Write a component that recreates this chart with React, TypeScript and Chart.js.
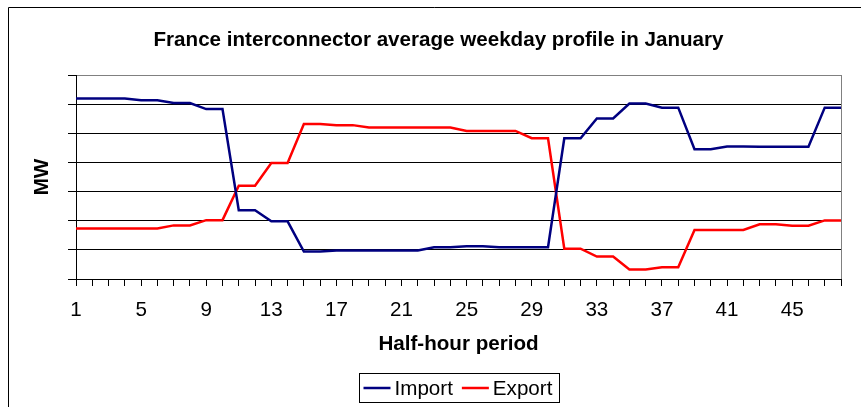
import React, { useEffect, useRef } from 'react';
import { Chart, registerables } from 'chart.js';

Chart.register(...registerables);

const FONT = '"Liberation Sans", Arial, Helvetica, sans-serif';
const FS = 20.6;

const titleText = 'France interconnector average weekday profile in January';
const xAxisTitle = 'Half-hour period';
const yAxisTitle = 'MW';

const categories = [
  '1', '2', '3', '4', '5', '6', '7', '8', '9', '10', '11', '12',
  '13', '14', '15', '16', '17', '18', '19', '20', '21', '22', '23', '24',
  '25', '26', '27', '28', '29', '30', '31', '32', '33', '34', '35', '36',
  '37', '38', '39', '40', '41', '42', '43', '44', '45', '46', '47', '48',
];

const shownTickLabels = ['1', '5', '9', '13', '17', '21', '25', '29', '33', '37', '41', '45'];

const importMW = [
  619, 619, 619, 619, 613, 613, 604, 604, 583, 583, 236, 236,
  198, 198, 94, 94, 98, 98, 98, 98, 98, 98, 109, 109,
  112, 112, 109, 109, 109, 109, 483, 483, 551, 551, 602, 602,
  588, 588, 445, 445, 455, 455, 454, 454, 454, 454, 588, 588,
];

const exportMW = [
  173, 173, 173, 173, 173, 173, 184, 184, 202, 202, 320, 320,
  398, 398, 532, 532, 528, 528, 520, 520, 520, 520, 520, 520,
  508, 508, 508, 508, 483, 483, 104, 104, 77, 77, 33, 33,
  40, 40, 168, 168, 168, 168, 188, 188, 183, 183, 201, 201,
];

const yMin = 0;
const yMax = 700;
const yStep = 100;

const seriesNames = ['Import', 'Export'];
const seriesColors = ['#000080', '#FF0000'];

const decorPlugin = {
  id: 'decor',
  beforeDraw(chart: any) {
    const ctx = chart.ctx;
    ctx.save();
    // outer frame (top and left edges visible)
    ctx.strokeStyle = '#000';
    ctx.lineWidth = 1;
    ctx.beginPath();
    ctx.moveTo(8.5, chart.height);
    ctx.lineTo(8.5, 7.5);
    ctx.lineTo(chart.width, 7.5);
    ctx.stroke();
    // chart title
    ctx.fillStyle = '#000';
    ctx.font = `bold ${FS}px ${FONT}`;
    ctx.textAlign = 'center';
    ctx.textBaseline = 'middle';
    ctx.fillText(titleText, 438.5, 40);
    ctx.restore();
  },
  beforeDatasetsDraw(chart: any) {
    const { ctx, chartArea } = chart;
    ctx.save();
    ctx.strokeStyle = '#808080';
    ctx.lineWidth = 1;
    ctx.beginPath();
    ctx.moveTo(Math.round(chartArea.right) + 0.5, chartArea.top);
    ctx.lineTo(Math.round(chartArea.right) + 0.5, chartArea.bottom);
    ctx.stroke();
    ctx.restore();
  },
  afterDraw(chart: any) {
    const { ctx, chartArea } = chart;
    const datasets = chart.data.datasets;
    ctx.save();
    ctx.font = `${FS}px ${FONT}`;
    const lineLen = 27;
    const textGap = 4;
    const itemGap = 9;
    const padL = 4;
    const padR = 7;
    let content = 0;
    datasets.forEach((d: any, i: number) => {
      content += lineLen + textGap + ctx.measureText(d.label).width;
      if (i < datasets.length - 1) content += itemGap;
    });
    const boxW = content + padL + padR;
    const cx = (chartArea.left + chartArea.right) / 2;
    const boxL = Math.round(cx - boxW / 2) + 0.5;
    const boxT = 373.5;
    const boxH = 29;
    ctx.strokeStyle = '#000';
    ctx.lineWidth = 1;
    ctx.strokeRect(boxL, boxT, Math.round(boxW), boxH);
    const cy = boxT + boxH / 2;
    let x = boxL + padL;
    datasets.forEach((d: any) => {
      ctx.strokeStyle = d.borderColor;
      ctx.lineWidth = d.borderWidth;
      ctx.beginPath();
      ctx.moveTo(x, cy);
      ctx.lineTo(x + lineLen, cy);
      ctx.stroke();
      x += lineLen + textGap;
      ctx.fillStyle = '#000';
      ctx.textAlign = 'left';
      ctx.textBaseline = 'middle';
      ctx.fillText(d.label, x, cy + 1);
      x += ctx.measureText(d.label).width + itemGap;
    });
    ctx.restore();
  },
};

export default function App() {
  const canvasRef = useRef<HTMLCanvasElement | null>(null);

  useEffect(() => {
    if (!canvasRef.current) return;
    Chart.defaults.font.family = FONT;
    Chart.defaults.color = '#000';
    const chart = new Chart(canvasRef.current, {
      type: 'line',
      data: {
        labels: categories,
        datasets: [
          {
            label: seriesNames[0],
            data: importMW,
            borderColor: seriesColors[0],
            backgroundColor: seriesColors[0],
            borderWidth: 2.5,
            pointRadius: 0,
            tension: 0,
            fill: false,
          },
          {
            label: seriesNames[1],
            data: exportMW,
            borderColor: seriesColors[1],
            backgroundColor: seriesColors[1],
            borderWidth: 2.5,
            pointRadius: 0,
            tension: 0,
            fill: false,
          },
        ],
      },
      options: {
        animation: false,
        responsive: false,
        maintainAspectRatio: false,
        layout: { padding: { left: 0, right: 20, top: 75, bottom: 40 } },
        plugins: {
          legend: { display: false },
          title: { display: false },
          tooltip: { enabled: false },
        },
        scales: {
          x: {
            type: 'category',
            offset: false,
            grid: {
              drawOnChartArea: false,
              drawTicks: true,
              tickLength: 7,
              color: '#000',
              offset: false,
            },
            border: { display: true, color: '#000', width: 1 },
            ticks: {
              autoSkip: false,
              maxRotation: 0,
              minRotation: 0,
              padding: 12,
              color: '#000',
              font: { size: FS, family: FONT },
              callback: (_v: any, i: number) =>
                shownTickLabels.includes(categories[i]) ? categories[i] : '',
            },
            title: {
              display: true,
              text: xAxisTitle,
              color: '#000',
              font: { size: FS, weight: 'bold', family: FONT },
              padding: { top: 0, bottom: 10 },
            },
            afterFit: (s: any) => {
              s.height = 88;
            },
          },
          y: {
            min: yMin,
            max: yMax,
            ticks: { display: false, stepSize: yStep },
            grid: {
              color: (c: any) => (c.tick && c.tick.value === yMax ? '#808080' : '#000'),
              tickColor: '#000',
              tickLength: 8,
              drawTicks: true,
            },
            border: { display: true, color: '#000', width: 1 },
            title: {
              display: true,
              text: yAxisTitle,
              color: '#000',
              font: { size: FS, weight: 'bold', family: FONT },
              padding: { top: 30, bottom: 0 },
            },
            afterFit: (s: any) => {
              s.width = 76;
            },
          },
        },
      },
      plugins: [decorPlugin],
    } as any);
    return () => chart.destroy();
  }, []);

  return (
    <div style={{ position: 'fixed', left: 0, top: 0, width: 861, height: 407, background: '#fff' }}>
      <canvas ref={canvasRef} width={861} height={407} style={{ display: 'block' }} />
    </div>
  );
}
